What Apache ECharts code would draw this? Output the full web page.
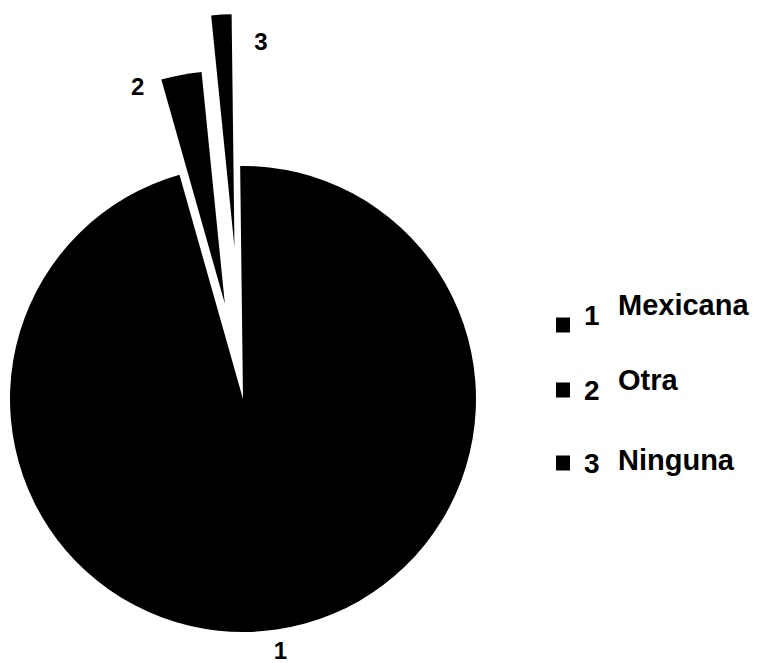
<!DOCTYPE html>
<html><head><meta charset="utf-8">
<script src="https://cdn.jsdelivr.net/npm/echarts@6/dist/echarts.min.js"></script>
<style>html,body{margin:0;padding:0;background:#fff}#c{width:759px;height:663px}</style>
</head><body><div id="c"></div>
<script>
// ---- data ----
const categories = ['1', '2', '3'];
const descriptions = ['Mexicana', 'Otra', 'Ninguna'];
const values = [95.8, 2.8, 1.4];

// ---- layout / style ----
const FONT = '"Liberation Sans", Arial, sans-serif';
const explode = [0, 97, 152];
const labelShift = [[-10, 6], [-29, 26], [52, 42]];
const legendTops = [301, 376, 449];
const legendRaise = [true, false, false];
const nameTops = [290, 365, 445];

function seriesFor(k) {
  return {
    type: 'pie',
    center: [243, 399],
    radius: [0, 233],
    startAngle: 90.7,
    clockwise: true,
    selectedMode: 'multiple',
    selectedOffset: explode[k],
    avoidLabelOverlap: false,
    silent: true,
    animation: false,
    label: { show: false },
    labelLine: { show: false, length: 15, length2: 0 },
    labelLayout: function () { return { dx: labelShift[k][0], dy: labelShift[k][1] }; },
    emphasis: { disabled: true },
    data: categories.map((c, i) => ({
      name: c,
      value: values[i],
      selected: i === k && explode[k] > 0,
      itemStyle: { color: i === k ? '#000' : 'rgba(0,0,0,0)', borderWidth: 0 },
      label: i === k ? {
        show: true, position: 'outside', formatter: '{b}', color: '#000',
        fontFamily: FONT, fontWeight: 'bold', fontSize: 24
      } : { show: false }
    }))
  };
}

const chart = echarts.init(document.getElementById('c'), null, { renderer: 'svg' });
chart.setOption({
  backgroundColor: '#fff',
  animation: false,
  legend: categories.map((c, i) => ({
    orient: 'vertical', left: 556, top: legendTops[i], padding: 0,
    icon: 'rect', itemWidth: 14, itemHeight: 15,
    data: [c], selectedMode: false,
    formatter: legendRaise[i] ? '{name}\n' : '{name}',
    itemStyle: { color: '#000', borderWidth: 0 },
    textStyle: {
      fontFamily: FONT, fontWeight: 'bold', fontSize: 28,
      lineHeight: legendRaise[i] ? 20 : 28, color: '#000',
      padding: [0, 0, 0, 9]
    }
  })),
  graphic: descriptions.map((d, i) => ({
    type: 'text', left: 618, top: nameTops[i], silent: true,
    style: { text: d, fill: '#000', font: 'bold 29px ' + FONT }
  })),
  series: categories.map((c, k) => seriesFor(k))
});
</script></body></html>
